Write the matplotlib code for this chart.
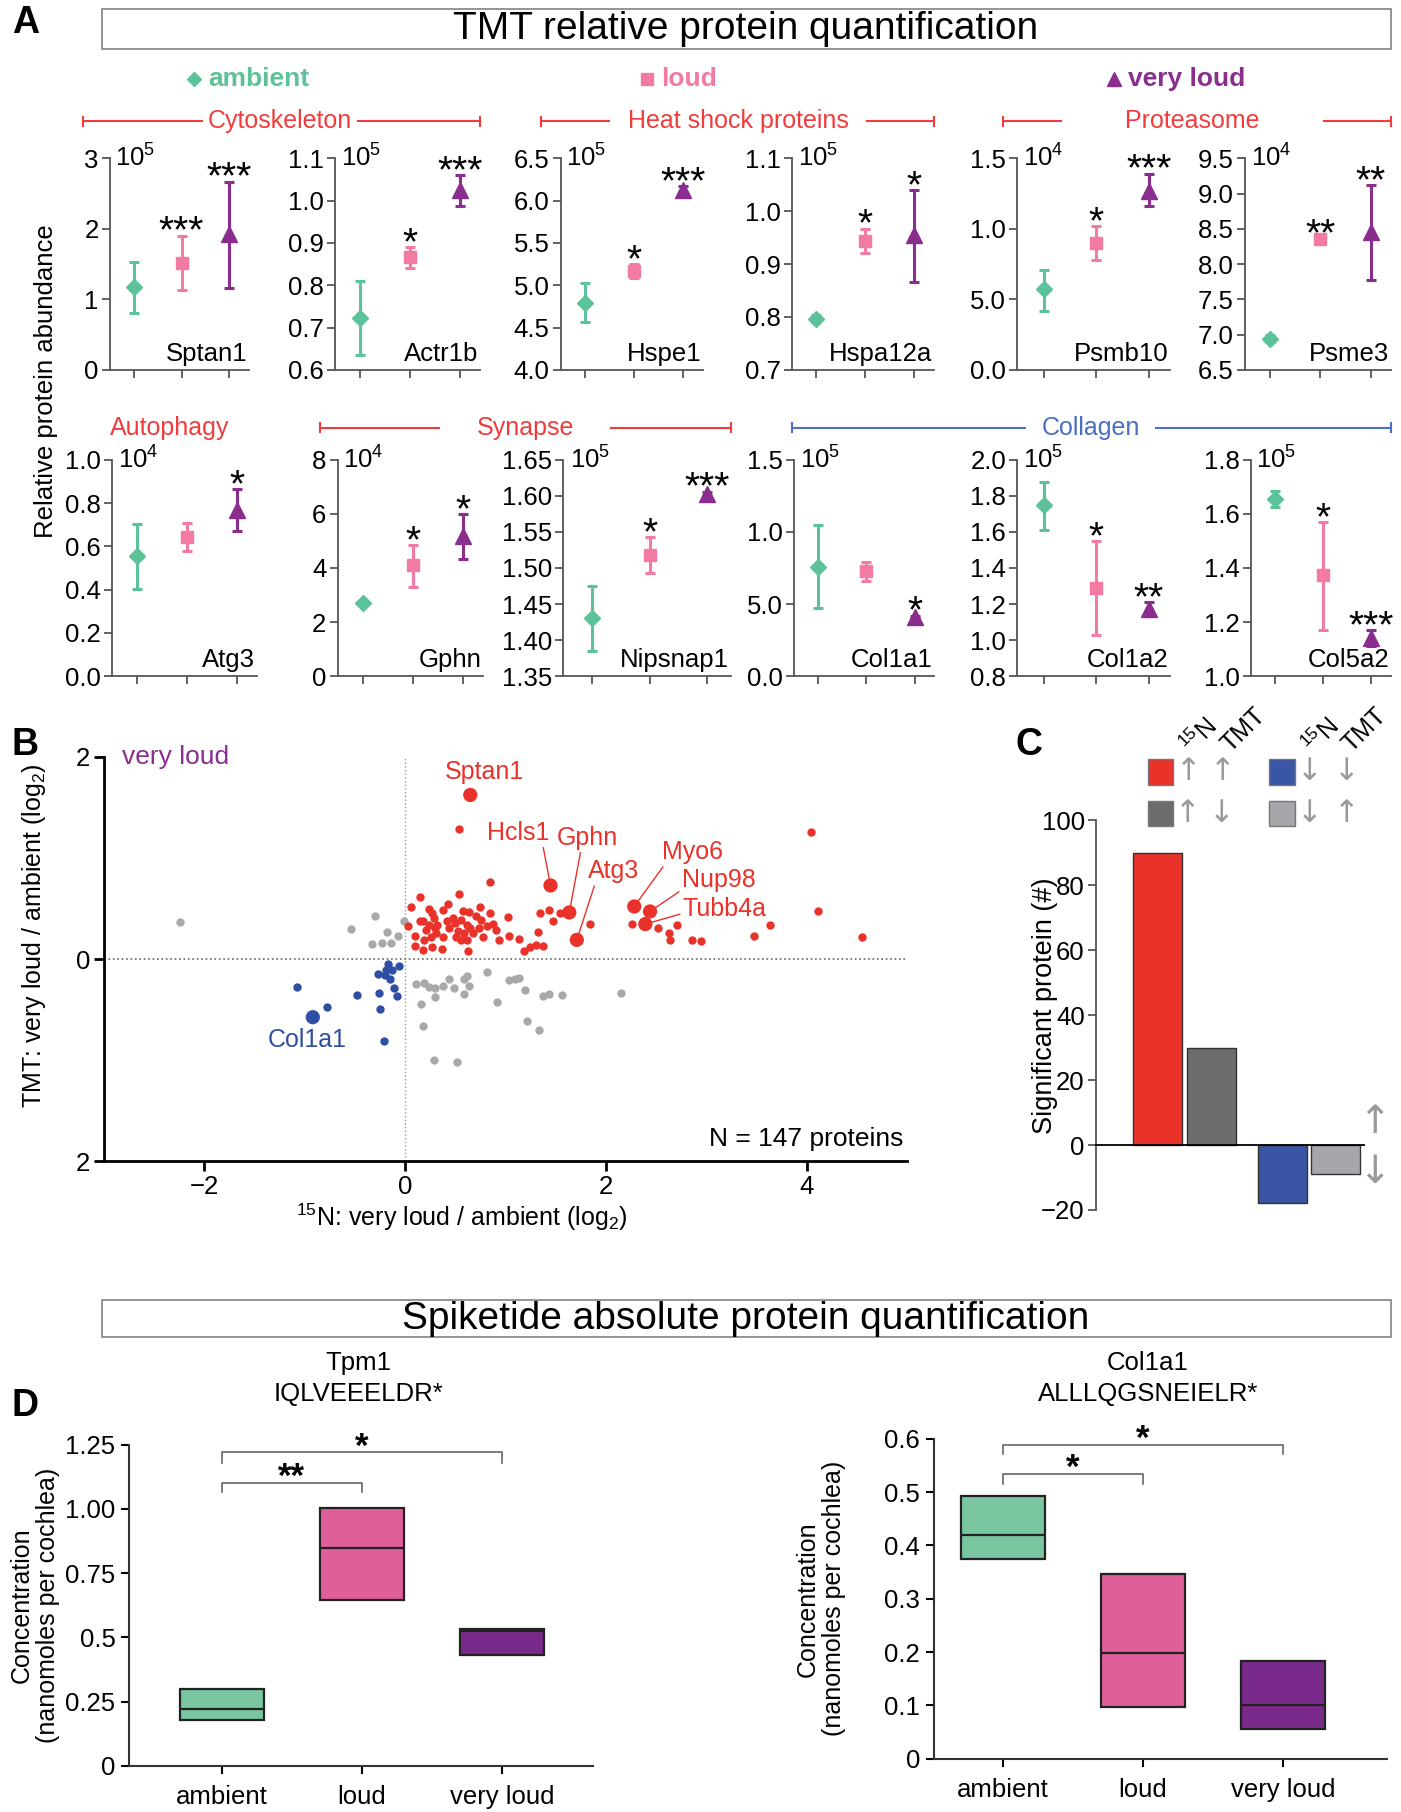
import matplotlib
matplotlib.use("Agg")
import matplotlib.pyplot as plt
from matplotlib import font_manager
from matplotlib.patches import Rectangle
from matplotlib.lines import Line2D

# --------------------------------------------------
# fonts
# --------------------------------------------------
names = {f.name for f in font_manager.fontManager.ttflist}
fonte = "Liberation Sans Narrow" if "Liberation Sans Narrow" in names else "Liberation Sans"
plt.rcParams["font.family"] = [fonte, "DejaVu Sans"]
plt.rcParams["mathtext.fontset"] = "custom"
plt.rcParams["mathtext.rm"] = fonte
plt.rcParams["mathtext.it"] = fonte
plt.rcParams["mathtext.bf"] = fonte

# --------------------------------------------------
# data - panel A (TMT)
# --------------------------------------------------
groups = ["ambient", "loud", "very loud"]

genes = ["Sptan1", "Actr1b", "Hspe1", "Hspa12a", "Psmb10", "Psme3",
         "Atg3", "Gphn", "Nipsnap1", "Col1a1", "Col1a2", "Col5a2"]
exponents = [5, 5, 5, 5, 4, 4, 4, 4, 5, 5, 5, 5]

means = [[1.17, 1.52, 1.93], [0.722, 0.866, 1.025], [4.79, 5.17, 6.13],
         [0.797, 0.943, 0.955], [0.57, 0.90, 1.27], [6.94, 8.35, 8.45],
         [0.555, 0.645, 0.77], [2.7, 4.1, 5.2], [1.430, 1.518, 1.603],
         [0.76, 0.73, 0.41], [1.75, 1.29, 1.175], [1.655, 1.375, 1.14]]
err_low = [[0.80, 1.13, 1.16], [0.636, 0.840, 0.987], [4.56, 5.08, 6.10],
           [0.790, 0.920, 0.867], [0.42, 0.78, 1.16], [6.90, 8.33, 7.78],
           [0.405, 0.58, 0.67], [2.65, 3.3, 4.35], [1.385, 1.493, 1.600],
           [0.47, 0.66, 0.40], [1.61, 1.03, 1.14], [1.625, 1.17, 1.11]]
err_high = [[1.53, 1.90, 2.67], [0.810, 0.890, 1.060], [5.03, 5.25, 6.17],
            [0.803, 0.967, 1.040], [0.71, 1.02, 1.39], [6.99, 8.37, 9.12],
            [0.705, 0.71, 0.865], [2.75, 4.85, 6.0], [1.475, 1.543, 1.606],
            [1.05, 0.79, 0.42], [1.88, 1.55, 1.21], [1.685, 1.57, 1.17]]
stars = [["", "***", "***"], ["", "*", "***"], ["", "*", "***"],
         ["", "*", "*"], ["", "*", "***"], ["", "**", "**"],
         ["", "", "*"], ["", "*", "*"], ["", "*", "***"],
         ["", "", "*"], ["", "*", "**"], ["", "*", "***"]]

yticks = [[0, 1, 2, 3], [0.6, 0.7, 0.8, 0.9, 1.0, 1.1],
          [4.0, 4.5, 5.0, 5.5, 6.0, 6.5], [0.7, 0.8, 0.9, 1.0, 1.1],
          [0.0, 0.5, 1.0, 1.5], [6.5, 7.0, 7.5, 8.0, 8.5, 9.0, 9.5],
          [0.0, 0.2, 0.4, 0.6, 0.8, 1.0], [0, 2, 4, 6, 8],
          [1.35, 1.40, 1.45, 1.50, 1.55, 1.60, 1.65], [0.0, 0.5, 1.0, 1.5],
          [0.8, 1.0, 1.2, 1.4, 1.6, 1.8, 2.0], [1.0, 1.2, 1.4, 1.6, 1.8]]
ytick_labels = [["0", "1", "2", "3"], ["0.6", "0.7", "0.8", "0.9", "1.0", "1.1"],
                ["4.0", "4.5", "5.0", "5.5", "6.0", "6.5"], ["0.7", "0.8", "0.9", "1.0", "1.1"],
                ["0.0", "5.0", "1.0", "1.5"], ["6.5", "7.0", "7.5", "8.0", "8.5", "9.0", "9.5"],
                ["0.0", "0.2", "0.4", "0.6", "0.8", "1.0"], ["0", "2", "4", "6", "8"],
                ["1.35", "1.40", "1.45", "1.50", "1.55", "1.60", "1.65"], ["0.0", "5.0", "1.0", "1.5"],
                ["0.8", "1.0", "1.2", "1.4", "1.6", "1.8", "2.0"], ["1.0", "1.2", "1.4", "1.6", "1.8"]]

# --------------------------------------------------
# data - panel B (15N vs TMT, log2)
# --------------------------------------------------
red_x = [0.531, 4.04, 4.105, 4.548, 0.840, 0.536, 0.146, 0.052, 0.233, 0.268,
         0.426, 0.379, 0.571, 0.636, 0.746, 0.845, 1.02, 0.029, 0.175, 0.204,
         0.309, 0.32, 0.42, 0.496, 0.525, 0.583, 0.612, 0.554, 0.729, 0.816,
         0.875, 0.775, 0.933, 1.032, 1.137, 0.099, 0.099, 0.175, 0.262, 0.367,
         0.624, 1.184, 1.242, 1.30, 1.37, 1.324, 1.341, 1.429, 1.475, 1.545,
         1.837, 2.257, 2.519, 2.624, 2.636, 2.706, 2.857, 2.945, 3.469, 3.627,
         0.146, 0.233, 0.292, 0.437, 0.612, 0.67, 0.758, 0.19, 0.38, 0.47,
         0.70, 0.90, 0.29, 0.55, 0.64, 0.50, 0.26]
red_y = [1.287, 1.254, 0.479, 0.215, 0.766, 0.647, 0.611, 0.515, 0.498, 0.455,
         0.545, 0.488, 0.472, 0.462, 0.512, 0.455, 0.413, 0.323, 0.373, 0.29,
         0.257, 0.34, 0.373, 0.356, 0.28, 0.257, 0.191, 0.191, 0.307, 0.323,
         0.35, 0.224, 0.191, 0.231, 0.201, 0.231, 0.132, 0.092, 0.125, 0.099,
         0.076, 0.083, 0.116, 0.142, 0.135, 0.264, 0.455, 0.482, 0.373, 0.455,
         0.347, 0.347, 0.31, 0.257, 0.185, 0.34, 0.185, 0.175, 0.231, 0.34,
         0.373, 0.34, 0.307, 0.307, 0.34, 0.257, 0.389, 0.19, 0.22, 0.41,
         0.43, 0.29, 0.41, 0.39, 0.31, 0.22, 0.22]
gray_x = [-2.245, -0.303, -0.536, -0.012, -0.187, -0.07, -0.332, -0.233, -0.146,
          0.105, 0.187, 0.233, 0.292, 0.379, 0.437, 0.484, 0.583, 0.612, 0.63,
          0.583, 0.292, 0.157, 0.816, 1.032, 1.09, 1.137, 1.195, 1.37, 1.429,
          1.563, 2.146, 0.915, 0.175, 1.207, 1.329, 0.286, 0.513]
gray_y = [0.363, 0.429, 0.30, 0.373, 0.267, 0.231, 0.152, 0.158, 0.158,
          -0.248, -0.238, -0.271, -0.281, -0.261, -0.195, -0.287, -0.198, -0.162, -0.261,
          -0.343, -0.37, -0.442, -0.129, -0.205, -0.195, -0.182, -0.304, -0.363, -0.347,
          -0.353, -0.33, -0.426, -0.66, -0.607, -0.70, -0.997, -1.013]
blue_x = [-1.079, -0.478, -0.781, -0.251, -0.216, -0.262, -0.087, -0.117,
          -0.274, -0.204, -0.157, -0.175, -0.128, -0.058, -0.192]
blue_y = [-0.271, -0.353, -0.475, -0.492, -0.805, -0.337, -0.363, -0.287,
          -0.145, -0.155, -0.198, -0.046, -0.112, -0.066, -0.106]

label_names = ["Sptan1", "Hcls1", "Gphn", "Atg3", "Myo6", "Nup98", "Tubb4a", "Col1a1"]
label_x = [0.647, 1.446, 1.633, 1.708, 2.28, 2.437, 2.39, -0.921]
label_y = [1.624, 0.729, 0.462, 0.191, 0.521, 0.472, 0.347, -0.574]

# --------------------------------------------------
# data - panel C
# --------------------------------------------------
bar_values = [90, 30, -18, -9]
c_ticks = [-20, 0, 20, 40, 60, 80, 100]

# --------------------------------------------------
# data - panel D (spiketide)
# --------------------------------------------------
tpm1_low = [0.180, 0.644, 0.432]
tpm1_med = [0.219, 0.847, 0.526]
tpm1_high = [0.300, 1.003, 0.531]
col_low = [0.375, 0.097, 0.056]
col_med = [0.419, 0.199, 0.101]
col_high = [0.493, 0.347, 0.183]
tpm1_ticks = [0, 0.25, 0.5, 0.75, 1.0, 1.25]
tpm1_tick_labels = ["0", "0.25", "0.5", "0.75", "1.00", "1.25"]
col_ticks = [0, 0.1, 0.2, 0.3, 0.4, 0.5, 0.6]
col_tick_labels = ["0", "0.1", "0.2", "0.3", "0.4", "0.5", "0.6"]

# --------------------------------------------------
# styles
# --------------------------------------------------
colors_a = ["#5cc29a", "#f27aa3", "#8b2d8e"]
markers = ["D", "s", "^"]
msizes = [8, 9, 11]
box_colors = ["#79c6a0", "#df5f9a", "#7a2a8b"]
red, blue, gray = "#e8322a", "#2e4fa3", "#a9a9a9"
bar_colors = [red, "#6b6c6e", "#3a55a4", "#a6a7aa"]
grp_red = "#f03c3c"
grp_blue = "#4a6fc4"
spine_c = "#555555"
fs_tick = 18.5
fs_lab = 18

W, H = 1212.0, 1568.0
fig = plt.figure(figsize=(14.01, 18.12), dpi=100)


def rect(x0, y0, x1, y1):
    return [x0 / W, 1 - y1 / H, (x1 - x0) / W, (y1 - y0) / H]


def fx(x):
    return x / W


def fy(y):
    return 1 - y / H


def title_box(y0, y1, text):
    fig.add_artist(Rectangle((fx(88), fy(y1)), fx(1203) - fx(88), fy(y0) - fy(y1),
                             transform=fig.transFigure, fill=False, edgecolor="#8c8c8c", lw=1.3))
    fig.text(fx(645), fy((y0 + y1) / 2), text, ha="center", va="center", fontsize=28)


def group_line(x0, xa, xb, x1, y, text, color):
    for a, b in [(x0, xa), (xb, x1)]:
        fig.add_artist(Line2D([fx(a), fx(b)], [fy(y), fy(y)], color=color, lw=1.5,
                              transform=fig.transFigure))
    for e in (x0, x1):
        fig.add_artist(Line2D([fx(e), fx(e)], [fy(y - 4), fy(y + 4)], color=color, lw=1.5,
                              transform=fig.transFigure))
    fig.text(fx((xa + xb) / 2), fy(y), text, ha="center", va="center", fontsize=18, color=color)


def style_axes(ax):
    for s in ["top", "right"]:
        ax.spines[s].set_visible(False)
    for s in ["left", "bottom"]:
        ax.spines[s].set_color(spine_c)
        ax.spines[s].set_linewidth(1.3)
    ax.tick_params(direction="out", color=spine_c, width=1.3, length=6, labelsize=fs_tick, pad=2)


# --------------------------------------------------
# panel A
# --------------------------------------------------
fig.text(fx(22), fy(20), "A", fontsize=27, fontweight="bold", ha="center", va="center",
         family="Liberation Sans")
title_box(8, 42, "TMT relative protein quantification")

legend_x = [168, 560, 964]
for j in range(3):
    fig.add_artist(Line2D([fx(legend_x[j])], [fy(68)], marker=markers[j], color=colors_a[j],
                          ms=[7, 8, 10][j], transform=fig.transFigure, lw=0))
    fig.text(fx(legend_x[j] + 12), fy(68), groups[j], color=colors_a[j], fontsize=19,
             fontweight="bold", ha="left", va="center", family="Liberation Sans")

group_line(72, 175, 310, 415, 105, "Cytoskeleton", grp_red)
group_line(468, 527, 750, 808, 105, "Heat shock proteins", grp_red)
group_line(868, 918, 1145, 1203, 105, "Proteasome", grp_red)
fig.text(fx(147), fy(370), "Autophagy", ha="center", va="center", fontsize=18, color=grp_red)
group_line(277, 380, 529, 632, 370, "Synapse", grp_red)
group_line(685, 887, 1000, 1203, 370, "Collagen", grp_blue)

fig.text(fx(40), fy(330), "Relative protein abundance", rotation=90, ha="center",
         va="center", fontsize=18.5)

row1_x = [(95, 215), (290, 415), (485, 608), (685, 808), (880, 1012), (1077, 1203)]
row2_x = [(97, 222), (292, 418), (487, 632), (687, 808), (880, 1012), (1082, 1203)]

for i, gene in enumerate(genes):
    if i < 6:
        x0, x1 = row1_x[i]
        y0, y1 = 137, 320
    else:
        x0, x1 = row2_x[i - 6]
        y0, y1 = 398, 585
    ax = fig.add_axes(rect(x0, y0, x1, y1))
    for j in range(3):
        m = means[i][j]
        lo, hi = err_low[i][j], err_high[i][j]
        ax.errorbar(j, m, yerr=[[m - lo], [hi - m]], fmt=markers[j], color=colors_a[j],
                    ms=msizes[j], capsize=3.5, elinewidth=2.2, capthick=2.2, clip_on=False)
        if stars[i][j]:
            ax.annotate(stars[i][j], (j, hi), xytext=(0, -5), textcoords="offset points",
                        ha="center", va="baseline", fontsize=28, annotation_clip=False,
                        family="Liberation Sans")
    ax.set_xlim(-0.5, 2.4)
    ax.set_ylim(yticks[i][0], yticks[i][-1])
    ax.set_xticks([0, 1, 2])
    ax.set_xticklabels([])
    ax.set_yticks(yticks[i])
    ax.set_yticklabels(ytick_labels[i])
    style_axes(ax)
    ax.text(0.04, 1.0, r"$10^{%d}$" % exponents[i], transform=ax.transAxes, ha="left",
            va="center", fontsize=fs_tick)
    ax.text(0.99, 0.02, gene, transform=ax.transAxes, ha="right", va="bottom", fontsize=18.5)

# --------------------------------------------------
# panel B
# --------------------------------------------------
fig.text(fx(22), fy(645), "B", fontsize=27, fontweight="bold", ha="center", va="center",
         family="Liberation Sans")
axb = fig.add_axes(rect(90, 655, 785, 1005))
axb.axvline(0, color="#999999", ls=":", lw=1, zorder=1)
axb.axhline(0, color="#666666", ls=":", lw=1.2, zorder=1)
axb.scatter(gray_x, gray_y, s=36, color=gray, linewidths=0, zorder=2)
axb.scatter(red_x, red_y, s=36, color=red, linewidths=0, zorder=3)
axb.scatter(blue_x, blue_y, s=36, color=blue, linewidths=0, zorder=3)
label_colors = [red] * 7 + [blue]
axb.scatter(label_x, label_y, s=105, color=label_colors, linewidths=0, zorder=4)

label_text = [(0.79, 1.85), (1.12, 1.25), (1.81, 1.20), (2.07, 0.87),
              (2.86, 1.06), (3.12, 0.78), (3.18, 0.50), (-0.98, -0.80)]
label_relpos = [None, (0.9, 0.0), (0.4, 0.0), (0.15, 0.0), (0.05, 0.0),
                (0.0, 0.1), (0.0, 0.3), None]
for k, name in enumerate(label_names):
    if label_relpos[k] is None:
        axb.text(label_text[k][0], label_text[k][1], name, color=label_colors[k],
                 ha="center", va="center", fontsize=18)
    else:
        axb.annotate(name, (label_x[k], label_y[k]), xytext=label_text[k], color=label_colors[k],
                     ha="center", va="center", fontsize=18,
                     arrowprops=dict(arrowstyle="-", color=label_colors[k], lw=1,
                                     relpos=label_relpos[k], shrinkA=0, shrinkB=5))

axb.set_xlim(-3, 5)
axb.set_ylim(-2, 2)
axb.set_xticks([-2, 0, 2, 4])
axb.set_yticks([-2, 0, 2])
axb.set_yticklabels(["2", "0", "2"])
for s in ["top", "right"]:
    axb.spines[s].set_visible(False)
for s in ["left", "bottom"]:
    axb.spines[s].set_linewidth(2)
axb.tick_params(direction="out", width=2, length=7, labelsize=fs_tick, pad=3)
axb.set_xlabel(r"$^{15}$N: very loud / ambient (log$_2$)", fontsize=fs_lab)
axb.xaxis.set_label_coords(0.446, -0.1)
axb.set_ylabel(r"TMT: very loud / ambient (log$_2$)", fontsize=fs_lab)
axb.yaxis.set_label_coords(-0.07, 0.557)
axb.text(0.022, 1.0, "very loud", transform=axb.transAxes, color="#8b2d8e", fontsize=19,
         ha="left", va="center")
axb.text(0.995, 0.055, "N = 147 proteins", transform=axb.transAxes, fontsize=19,
         ha="right", va="center")

# --------------------------------------------------
# panel C
# --------------------------------------------------
fig.text(fx(890), fy(645), "C", fontsize=27, fontweight="bold", ha="center", va="center",
         family="Liberation Sans")
axc = fig.add_axes(rect(948, 710, 1180, 1047))
bar_pos = [0, 1, 2.31, 3.29]
axc.bar(bar_pos, bar_values, width=0.9, color=bar_colors, edgecolor="#333333", linewidth=1)
axc.set_xlim(-1.13, 3.81)
axc.set_ylim(-20, 100)
axc.set_yticks(c_ticks)
axc.set_xticks([])
for s in ["top", "right"]:
    axc.spines[s].set_visible(False)
axc.spines["left"].set_color(spine_c)
axc.spines["left"].set_linewidth(1.3)
axc.spines["bottom"].set_position(("data", 0))
axc.spines["bottom"].set_linewidth(1.3)
axc.tick_params(axis="y", direction="out", color=spine_c, width=1.3, length=6,
                labelsize=fs_tick, pad=2)
axc.set_ylabel("Significant protein (#)", fontsize=19.5)
axc.yaxis.set_label_coords(-0.14, 0.525)

# legend of panel C
sq = [(993, 657, bar_colors[0]), (993, 693, bar_colors[1]),
      (1098, 657, bar_colors[2]), (1098, 693, bar_colors[3])]
for x, y, c in sq:
    fig.add_artist(Rectangle((fx(x), fy(y + 22)), fx(22), 22 / H, transform=fig.transFigure,
                             facecolor=c, edgecolor="#777777", lw=1))
arrows = [(1028, 668, "↑"), (1058, 668, "↑"), (1133, 668, "↓"), (1165, 668, "↓"),
          (1027, 704, "↑"), (1057, 704, "↓"), (1133, 704, "↓"), (1165, 704, "↑")]
for x, y, t in arrows:
    fig.text(fx(x), fy(y), t, ha="center", va="center", fontsize=22, color="#9a9a9a",
             family="DejaVu Sans")
for x in [1038, 1143]:
    fig.text(fx(x), fy(637), r"$^{15}$N", rotation=45, ha="center", va="center", fontsize=18)
    fig.text(fx(x + 38), fy(632), "TMT", rotation=45, ha="center", va="center", fontsize=18)
fig.text(fx(1189), fy(971), "↑", ha="center", va="center", fontsize=28, color="#9a9a9a",
         family="DejaVu Sans")
fig.text(fx(1189), fy(1014), "↓", ha="center", va="center", fontsize=28, color="#9a9a9a",
         family="DejaVu Sans")

# --------------------------------------------------
# panel D
# --------------------------------------------------
title_box(1125, 1157, "Spiketide absolute protein quantification")
fig.text(fx(22), fy(1217), "D", fontsize=27, fontweight="bold", ha="center", va="center",
         family="Liberation Sans")


def box_panel(r, xlim, lows, meds, highs, title, ticks, tick_labels, brackets, tx, lx):
    ax = fig.add_axes(r)
    for j in range(3):
        ax.bar(j, highs[j] - lows[j], bottom=lows[j], width=0.6, color=box_colors[j],
               edgecolor="#222222", linewidth=1.6)
        ax.hlines(meds[j], j - 0.3, j + 0.3, color="#222222", lw=1.6)
    for a, b, h, d, t in brackets:
        ax.plot([a, a, b, b], [h - d, h, h, h - d], color="#666666", lw=1.2, clip_on=False)
        ax.annotate(t, ((a + b) / 2, h), xytext=(0, -3), textcoords="offset points",
                    ha="center", va="baseline", fontsize=25, fontweight="bold",
                    annotation_clip=False, family="Liberation Sans")
    ax.set_xlim(*xlim)
    ax.set_ylim(ticks[0], ticks[-1])
    ax.set_yticks(ticks)
    ax.set_yticklabels(tick_labels)
    ax.set_xticks([0, 1, 2])
    ax.set_xticklabels(groups)
    for s in ["top", "right"]:
        ax.spines[s].set_visible(False)
    for s in ["left", "bottom"]:
        ax.spines[s].set_linewidth(1.5)
        ax.spines[s].set_color("#333333")
    ax.tick_params(direction="out", width=1.5, length=6, labelsize=fs_tick, pad=4)
    ax.tick_params(axis="x", pad=8)
    ax.set_ylabel("Concentration\n(nanomoles per cochlea)", fontsize=fs_lab, linespacing=1.1)
    ax.yaxis.set_label_coords(lx, 0.5)
    fig.text(tx, fy(1193), title, ha="center", va="center", fontsize=18.5, linespacing=1.4)
    return ax


box_panel(rect(112, 1250, 513, 1528), (-0.66, 2.65), tpm1_low, tpm1_med, tpm1_high,
          "Tpm1\nIQLVEEELDR*", tpm1_ticks, tpm1_tick_labels,
          [(0, 1, 1.10, 0.035, "**"), (0, 2, 1.22, 0.04, "*")], fx(310), -0.15)
box_panel(rect(808, 1245, 1200, 1522), (-0.49, 2.74), col_low, col_med, col_high,
          "Col1a1\nALLLQGSNEIELR*", col_ticks, col_tick_labels,
          [(0, 1, 0.534, 0.019, "*"), (0, 2, 0.589, 0.018, "*")], fx(993), -0.194)

fig.savefig("out.png", dpi=100)
